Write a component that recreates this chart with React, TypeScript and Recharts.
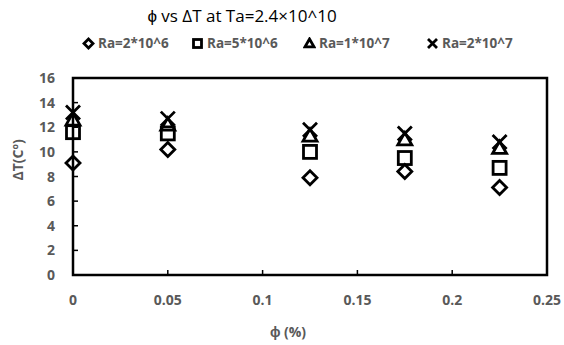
import { ScatterChart, Scatter, XAxis, YAxis, ReferenceArea } from 'recharts'

const phi = [0, 0.05, 0.125, 0.175, 0.225]
const ra2e6 = [9.1, 10.2, 7.9, 8.4, 7.1]
const ra5e6 = [11.6, 11.5, 10.0, 9.5, 8.7]
const ra1e7 = [12.6, 12.2, 11.3, 11.0, 10.3]
const ra2e7 = [13.2, 12.7, 11.8, 11.5, 10.8]

const xTicks = [0, 0.05, 0.1, 0.15, 0.2, 0.25]
const yTicks = [0, 2, 4, 6, 8, 10, 12, 14, 16]

const FONT = '"Open Sans", sans-serif'
const GRAY = '#595959'

const toPoints = (ys: number[]) => phi.map((x, i) => ({ x, y: ys[i] }))

// legend item left edges, Excel spaces them unevenly
const series = [
  { name: 'Ra=2*10^6', data: toPoints(ra2e6), kind: 'diamond', left: 82 },
  { name: 'Ra=5*10^6', data: toPoints(ra5e6), kind: 'square', left: 191 },
  { name: 'Ra=1*10^7', data: toPoints(ra1e7), kind: 'triangle', left: 303 },
  { name: 'Ra=2*10^7', data: toPoints(ra2e7), kind: 'x', left: 426 },
]

function Marker({ kind, cx, cy, r, sw }: { kind: string; cx: number; cy: number; r: number; sw: number }) {
  const common = { fill: 'none', stroke: '#000', strokeWidth: sw }
  if (kind === 'diamond')
    return <path d={`M${cx},${cy - r} L${cx + r},${cy} L${cx},${cy + r} L${cx - r},${cy} Z`} {...common} />
  if (kind === 'square')
    return <rect x={cx - r + 0.5} y={cy - r + 0.5} width={2 * r - 1} height={2 * r - 1} {...common} />
  if (kind === 'triangle')
    return <path d={`M${cx},${cy - r} L${cx + r},${cy + r * 0.75} L${cx - r},${cy + r * 0.75} Z`} {...common} />
  return <path d={`M${cx - r},${cy - r} L${cx + r},${cy + r} M${cx + r},${cy - r} L${cx - r},${cy + r}`} {...common} />
}

const XTick = (props: any) => {
  const { x, y, payload } = props
  return (
    <g>
      <line x1={x} y1={y} x2={x} y2={y - 5} stroke="#000" strokeWidth={1.5} />
      <text x={x} y={y + 30} textAnchor="middle" fill={GRAY} fontSize={14} fontWeight={700} fontFamily={FONT}>
        {payload.value}
      </text>
    </g>
  )
}

const YTick = (props: any) => {
  const { x, y, payload } = props
  return (
    <g>
      <line x1={x} y1={y} x2={x + 5} y2={y} stroke="#000" strokeWidth={1.5} />
      <text x={x - 18} y={y + 5} textAnchor="end" fill={GRAY} fontSize={14} fontWeight={700} fontFamily={FONT}>
        {payload.value}
      </text>
    </g>
  )
}

export default function App() {
  return (
    <div style={{ position: 'absolute', left: 0, top: 0, width: 564, height: 345, background: '#fff', fontFamily: FONT }}>
      <div style={{ position: 'absolute', left: 0, width: 484, top: 4, textAlign: 'center', fontSize: 17, color: '#000' }}>
        ϕ vs ΔT at Ta=2.4×10^10
      </div>
      {series.map(s => (
        <div key={s.name} style={{ position: 'absolute', left: s.left, top: 34, display: 'flex', alignItems: 'center', gap: 3, fontSize: 13.5, fontWeight: 700, color: GRAY, whiteSpace: 'nowrap' }}>
          <svg width={13} height={13}>
            <Marker kind={s.kind} cx={6.5} cy={6.5} r={4.5} sw={2.8} />
          </svg>
          <span>{s.name}</span>
        </div>
      ))}
      <ScatterChart width={564} height={345} margin={{ top: 78, right: 17, bottom: 20, left: 33 }}>
        <XAxis
          type="number"
          dataKey="x"
          domain={[0, 0.25]}
          ticks={xTicks}
          height={50}
          tickSize={0}
          tickMargin={0}
          tick={<XTick />}
          axisLine={false}
          tickLine={false}
          label={{ value: 'ϕ (%)', position: 'insideBottom', offset: -12, dx: -22, fill: GRAY, fontSize: 14, fontWeight: 700, fontFamily: FONT }}
        />
        <YAxis
          type="number"
          dataKey="y"
          domain={[0, 16]}
          ticks={yTicks}
          width={40}
          tickSize={0}
          tickMargin={0}
          tick={<YTick />}
          axisLine={false}
          tickLine={false}
          label={{ value: 'ΔT(Cº)', angle: -90, position: 'insideLeft', dx: -20, dy: 4, fill: GRAY, fontSize: 14, fontWeight: 700, fontFamily: FONT }}
        />
        <ReferenceArea x1={0} x2={0.25} y1={0} y2={16} fill="none" stroke="#000" strokeWidth={2.5} ifOverflow="visible" />
        {series.map(s => (
          <Scatter
            key={s.name}
            name={s.name}
            data={s.data}
            isAnimationActive={false}
            shape={(p: any) => <Marker kind={s.kind} cx={p.cx} cy={p.cy} r={7} sw={2.8} />}
          />
        ))}
      </ScatterChart>
    </div>
  )
}
